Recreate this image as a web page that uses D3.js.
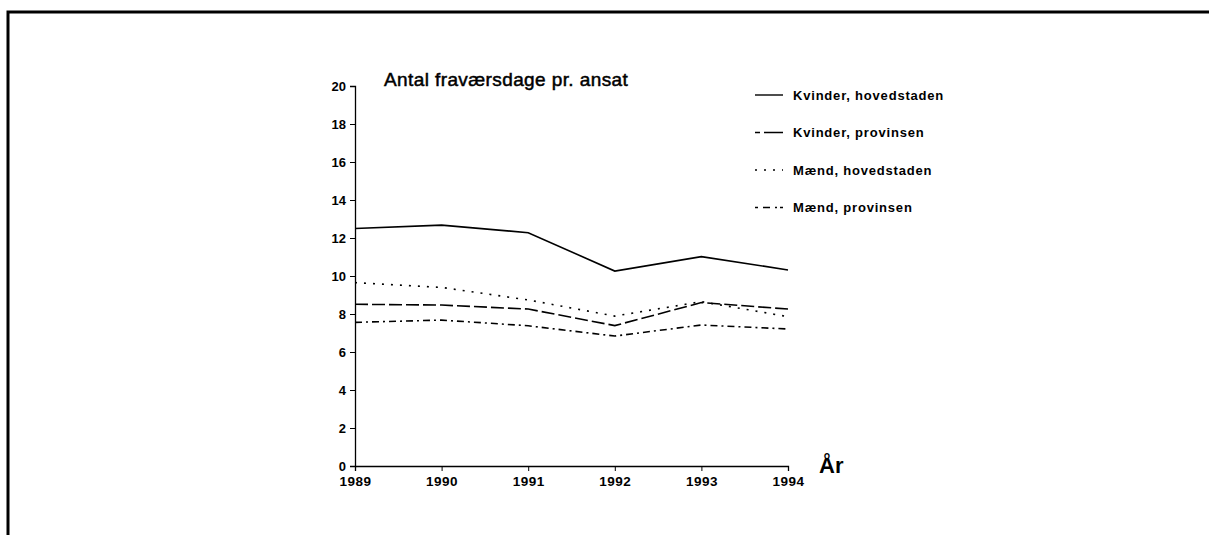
<!DOCTYPE html>
<html>
<head>
<meta charset="utf-8">
<script src="https://cdn.jsdelivr.net/npm/d3@7"></script>
<style>
  body { margin: 0; background: #fff; }
  svg text { font-family: "Liberation Sans", Arial, sans-serif; fill: #000; }
</style>
</head>
<body>
<svg width="1209" height="535"></svg>
<script>
// data
var years = [1989, 1990, 1991, 1992, 1993, 1994];
var kvinderHoved = [12.5, 12.68, 12.28, 10.26, 11.02, 10.32];
var kvinderProv = [8.51, 8.47, 8.26, 7.39, 8.6, 8.26];
var maendHoved = [9.65, 9.4, 8.74, 7.89, 8.65, 7.86];
var maendProv = [7.56, 7.68, 7.38, 6.84, 7.42, 7.21];
var seriesNames = ["Kvinder, hovedstaden", "Kvinder, provinsen", "Mænd, hovedstaden", "Mænd, provinsen"];
var yTicks = [0, 2, 4, 6, 8, 10, 12, 14, 16, 18, 20];

var series = [kvinderHoved, kvinderProv, maendHoved, maendProv];
var dashes = [null, "13,4", "2,7", "7,4,2,4"];
var legendDashes = [null, "5,4,19", "2,7", "3,5,7,5,2"];

var svg = d3.select("svg");

// ramme
svg.append("path")
    .attr("d", "M8,535 V12 H1209")
    .attr("fill", "none")
    .attr("stroke", "#000")
    .attr("stroke-width", 3);

var x = d3.scaleLinear().domain([1989, 1994]).range([355, 788]);
var y = d3.scaleLinear().domain([0, 20]).range([466, 86]);

// y-akse
var yAxis = svg.append("g")
    .attr("transform", "translate(355,0)")
    .call(d3.axisLeft(y).tickValues(yTicks).tickSize(5).tickPadding(4));
yAxis.select(".domain").attr("stroke-width", 1.3);
yAxis.selectAll("text")
    .style("font-size", "13px").style("font-weight", "bold");

// x-akse
var xAxis = svg.append("g")
    .attr("transform", "translate(0,466)")
    .call(d3.axisBottom(x).tickValues(years).tickFormat(d3.format("d")).tickSize(5).tickPadding(5));
xAxis.select(".domain").attr("stroke-width", 1.3);
xAxis.selectAll("text")
    .style("font-size", "13.5px").style("font-weight", "bold")
    .style("letter-spacing", "0.5px");

svg.append("text")
    .attr("x", 819).attr("y", 473)
    .style("font-size", "22px").style("font-weight", "bold")
    .text("År");

svg.append("text")
    .attr("x", 384).attr("y", 86)
    .style("font-size", "19px")
    .style("letter-spacing", "0.4px")
    .style("stroke", "#000").style("stroke-width", 0.5)
    .text("Antal fraværsdage pr. ansat");

// linjer
var line = d3.line()
    .x(function(d, i) { return x(years[i]); })
    .y(function(d) { return y(d); });

svg.append("g").selectAll("path")
    .data(series)
    .enter().append("path")
    .attr("d", line)
    .attr("fill", "none")
    .attr("stroke", "#000")
    .attr("stroke-width", 1.6)
    .attr("stroke-dasharray", function(d, i) { return dashes[i]; });

// legende
var legend = svg.append("g").selectAll("g")
    .data(seriesNames)
    .enter().append("g")
    .attr("transform", function(d, i) { return "translate(755," + (95 + i * 37.5) + ")"; });

legend.append("line")
    .attr("x1", 0).attr("x2", 28)
    .attr("stroke", "#000")
    .attr("stroke-width", 1.4)
    .attr("stroke-dasharray", function(d, i) { return legendDashes[i]; });

legend.append("text")
    .attr("x", 38).attr("y", 4.5)
    .style("font-size", "13px").style("font-weight", "bold")
    .style("letter-spacing", "0.8px")
    .text(function(d) { return d; });
</script>
</body>
</html>
